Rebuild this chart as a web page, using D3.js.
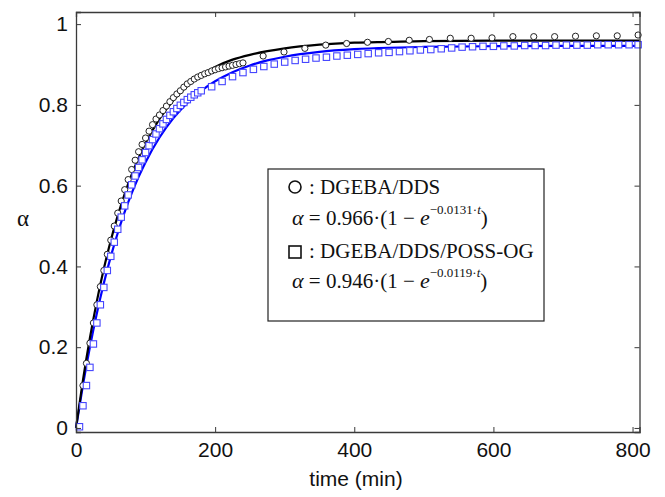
<!DOCTYPE html>
<html>
<head>
<meta charset="utf-8">
<script src="https://cdn.jsdelivr.net/npm/d3@7/dist/d3.min.js"></script>
<style>
  html, body { margin: 0; padding: 0; background: #fff; }
  svg { display: block; }
</style>
</head>
<body>
<svg id="chart" width="665" height="497"></svg>
<script>
// ---------- data ----------
const xTicks = [0, 200, 400, 600, 800];
const yTicks = [0, 0.2, 0.4, 0.6, 0.8, 1];
const yTickLabels = ["0", "0.2", "0.4", "0.6", "0.8", "1"];

// DGEBA/DDS measured points (circles)
const ddsTime = [10,15,20,25,30,35,40,45,50,55,60,65,70,75,80,85,90,95,100,105,110,115,120,125,130,135,140,145,150,155,160,165,170,175,180,185,190,195,200,205,210,215,220,225,230,235,240,
  269,299,329,359,389,419,449,479,508,538,568,598,628,658,688,718,748,778,808];
const ddsAlpha = [0.105,0.160,0.210,0.260,0.305,0.350,0.390,0.430,0.465,0.500,0.532,0.562,0.590,0.615,0.640,0.663,0.684,0.702,0.718,0.735,0.751,0.765,0.775,0.786,0.797,0.808,0.818,0.827,0.835,0.844,0.852,0.858,0.864,0.869,0.873,0.877,0.880,0.884,0.887,0.890,0.892,0.894,0.896,0.898,0.900,0.902,0.904,
  0.921,0.931,0.940,0.948,0.952,0.955,0.957,0.960,0.962,0.965,0.965,0.966,0.969,0.969,0.969,0.970,0.971,0.971,0.973];

// DGEBA/DDS/POSS-OG measured points (squares)
const possTime = [5,10,15,20,25,30,35,40,45,50,55,60,65,70,75,80,85,90,95,100,105,110,115,120,125,130,135,140,145,150,155,160,165,170,175,180,
  195,210,225,240,255,270,285,300,315,330,345,360,375,390,405,420,435,450,465,480,495,510,525,540,555,570,585,600,615,630,645,660,675,690,705,720,735,750,765,780,795,808];
const possAlpha = [0.003,0.055,0.105,0.150,0.208,0.260,0.305,0.348,0.390,0.425,0.460,0.492,0.522,0.550,0.577,0.602,0.624,0.645,0.664,0.682,0.699,0.714,0.728,0.741,0.753,0.764,0.774,0.783,0.791,0.799,0.806,0.813,0.819,0.825,0.830,0.835,
  0.845,0.858,0.870,0.880,0.888,0.895,0.901,0.906,0.910,0.913,0.916,0.918,0.921,0.923,0.925,0.927,0.929,0.930,0.932,0.934,0.936,0.937,0.939,0.941,0.943,0.944,0.945,0.945,0.946,0.946,0.947,0.947,0.947,0.948,0.948,0.948,0.948,0.949,0.949,0.949,0.949,0.949];

// fitted curves
const fitTime = [0,10,20,30,40,50,60,70,80,90,100,120,140,160,180,200,225,250,275,300,350,400,450,500,600,700,810];
const fitDDS  = [0,0.1186,0.2227,0.3140,0.3940,0.4643,0.5258,0.5799,0.6273,0.6689,0.7054,0.7655,0.8116,0.8472,0.8740,0.8940,0.9120,0.9240,0.9330,0.9400,0.9490,0.9540,0.9560,0.9580,0.9590,0.9590,0.9590];
const fitPOSS = [0,0.1061,0.2004,0.2840,0.3582,0.4242,0.4827,0.5348,0.5808,0.6218,0.6582,0.7192,0.7672,0.8050,0.8349,0.8584,0.8810,0.8977,0.9101,0.9193,0.9313,0.9379,0.9415,0.9435,0.9453,0.9459,0.9460];

const xLabel = "time (min)";
const yLabel = "α";
const legend1 = "DGEBA/DDS";
const legend2 = "DGEBA/DDS/POSS-OG";
const eq1 = {a: "0.966", k: "−0.0131"};
const eq2 = {a: "0.946", k: "−0.0119"};

// ---------- layout ----------
const svg = d3.select("#chart");
const L = 76, R = 639.5, T = 12, B = 432;
const x = d3.scaleLinear().domain([0, 810]).range([L, R]);
const y = d3.scaleLinear().domain([-0.01, 1.03]).range([B, T]);
const axisColor = "#3a3a3a";
const sans = "'Liberation Sans', Arial, Helvetica, sans-serif";
const serif = "'Liberation Serif', 'Times New Roman', serif";

// fit lines
const lineGen = (vals) => d3.line()
  .x((d, i) => x(fitTime[i]))
  .y((d) => y(d))
  .curve(d3.curveMonotoneX)(vals);

svg.append("path").attr("d", lineGen(fitPOSS))
  .attr("fill", "none").attr("stroke", "#0000ff").attr("stroke-width", 2.2);
svg.append("path").attr("d", lineGen(fitDDS))
  .attr("fill", "none").attr("stroke", "#000").attr("stroke-width", 2.2);

// circles
svg.append("g").selectAll("circle").data(ddsTime).join("circle")
  .attr("cx", (d) => x(d))
  .attr("cy", (d, i) => y(ddsAlpha[i]))
  .attr("r", 3.1)
  .attr("fill", "#fff").attr("stroke", "#222").attr("stroke-width", 1);

// squares
svg.append("g").selectAll("rect").data(possTime).join("rect")
  .attr("x", (d) => x(d) - 3.2)
  .attr("y", (d, i) => y(possAlpha[i]) - 3.2)
  .attr("width", 6.4).attr("height", 6.4)
  .attr("fill", "#fff").attr("stroke", "#4646ff").attr("stroke-width", 1.1);

// axes (MATLAB style box, inward ticks)
const gx = svg.append("g").attr("transform", `translate(0,${B})`)
  .call(d3.axisBottom(x).tickValues(xTicks).tickSize(-5).tickPadding(10).tickFormat(d3.format("d")));
const gxTop = svg.append("g").attr("transform", `translate(0,${T})`)
  .call(d3.axisTop(x).tickValues(xTicks).tickSize(-5).tickFormat(""));
const gy = svg.append("g").attr("transform", `translate(${L},0)`)
  .call(d3.axisLeft(y).tickValues(yTicks).tickSize(-5).tickPadding(8).tickFormat((d, i) => yTickLabels[i]));
const gyR = svg.append("g").attr("transform", `translate(${R},0)`)
  .call(d3.axisRight(y).tickValues(yTicks).tickSize(-5).tickFormat(""));

[gx, gxTop, gy, gyR].forEach(g => {
  g.select(".domain").attr("stroke", axisColor).attr("stroke-width", 1.3);
  g.selectAll(".tick line").attr("stroke", axisColor).attr("stroke-width", 1);
  g.selectAll("text").attr("font-family", sans).attr("font-size", 21).attr("fill", "#111");
});
gx.selectAll(".tick text").attr("dy", "0.71em");

// axis labels
svg.append("text").attr("x", 356).attr("y", 486).attr("text-anchor", "middle")
  .attr("font-family", sans).attr("font-size", 21).attr("fill", "#111").text(xLabel);
svg.append("text").attr("x", 23).attr("y", 226).attr("text-anchor", "middle")
  .attr("font-family", serif).attr("font-size", 23).attr("fill", "#111").text(yLabel);

// legend box
const lg = svg.append("g");
lg.append("rect").attr("x", 268).attr("y", 169).attr("width", 276).attr("height", 152)
  .attr("fill", "#fff").attr("stroke", "#222").attr("stroke-width", 1.2);

lg.append("circle").attr("cx", 295).attr("cy", 187).attr("r", 6)
  .attr("fill", "none").attr("stroke", "#111").attr("stroke-width", 1.6);
lg.append("text").attr("x", 309).attr("y", 194).attr("font-family", serif).attr("font-size", 21)
  .attr("fill", "#111").text(": " + legend1);

lg.append("rect").attr("x", 289).attr("y", 246).attr("width", 12).attr("height", 12)
  .attr("fill", "none").attr("stroke", "#111").attr("stroke-width", 1.6);
lg.append("text").attr("x", 309).attr("y", 258).attr("font-family", serif).attr("font-size", 21)
  .attr("fill", "#111").text(": " + legend2);

function equation(yb, p) {
  const t = lg.append("text").attr("x", 292).attr("y", yb)
    .attr("font-family", serif).attr("font-size", 21).attr("fill", "#111");
  t.append("tspan").attr("font-style", "italic").attr("font-size", 22).text("α");
  t.append("tspan").text(" = " + p.a + "·(1 − ");
  t.append("tspan").attr("font-style", "italic").attr("font-size", 22).text("e");
  t.append("tspan").attr("font-size", 13).attr("dy", -11).text(p.k + "·");
  t.append("tspan").attr("font-size", 13).attr("font-style", "italic").text("t");
  t.append("tspan").attr("dy", 11).text(")");
}
equation(225, eq1);
equation(288, eq2);
</script>
</body>
</html>
